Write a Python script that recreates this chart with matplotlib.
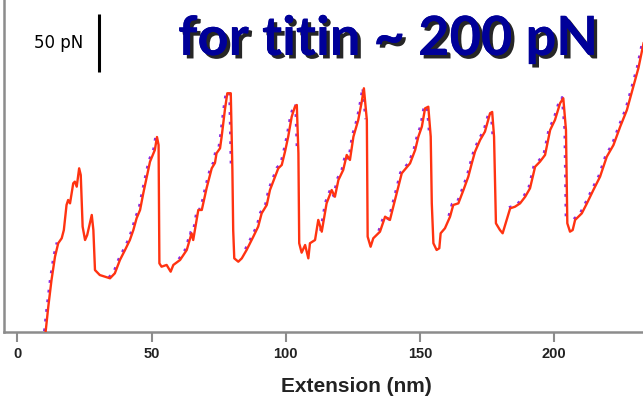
import matplotlib.pyplot as plt
import matplotlib.patheffects as pe
from matplotlib.transforms import offset_copy

# Force-extension trace of a titin pull (extension in nm, force in pN)
extension = [
    10.5, 11.5, 12.7, 14.0, 15.2, 16.5, 17.3, 18.3, 18.9, 19.6, 20.8, 21.4, 22.1, 23.0, 23.6,
    24.3, 25.2, 26.0, 27.7, 28.3, 28.9, 30.7, 34.5, 36.3, 38.2, 40.1, 41.9, 43.2, 44.4, 45.7,
    46.9, 48.2, 49.4, 51.2, 52.0, 52.6, 52.9, 53.7, 55.6, 57.1, 58.1, 60.6, 63.1, 64.9, 65.5,
    67.4, 68.7, 70.5, 72.4, 73.6, 74.2, 75.5, 76.1, 77.3, 78.2, 79.5, 80.1, 80.4, 80.8, 82.3,
    83.6, 85.4, 87.9, 89.7, 91.0, 92.9, 94.1, 95.3, 97.2, 98.5, 99.7, 100.9, 102.2, 103.4, 104.1,
    104.7, 105.0, 105.9, 107.2, 108.4, 109.0, 110.9, 112.1, 113.4, 115.2, 117.1, 118.3, 119.6, 121.4, 122.7,
    123.9, 125.2, 127.0, 128.3, 129.1, 130.2, 130.5, 131.6, 132.6, 135.1, 137.0, 138.8, 140.7, 143.2, 146.3,
    148.2, 149.4, 150.7, 151.9, 153.1, 154.0, 154.4, 155.0, 156.2, 157.2, 157.7, 159.3, 161.2, 162.4, 164.3,
    166.2, 168.0, 169.3, 170.5, 172.4, 174.2, 176.1, 176.9, 177.6, 178.3, 179.8, 180.8, 182.3, 183.6, 185.4,
    187.3, 189.2, 191.0, 192.9, 194.7, 196.6, 198.5, 200.3, 202.2, 203.4, 204.4, 204.9, 205.9, 206.9, 207.8,
    210.3, 212.2, 214.6, 217.1, 219.6, 222.1, 224.6, 227.1, 229.5, 231.4, 233.3,
]
force = [
    0.0, 21.8, 44.8, 64.9, 76.5, 80.8, 87.9, 109.5, 113.8, 110.9, 128.2, 129.6, 125.3, 141.1, 135.3,
    90.8, 79.3, 83.6, 100.9, 87.9, 53.4, 49.1, 46.3, 50.6, 62.1, 70.7, 79.3, 87.9, 98.0, 105.2,
    119.6, 133.9, 146.8, 156.9, 168.1, 161.2, 59.2, 56.3, 57.8, 52.0, 57.8, 62.1, 70.7, 85.1, 79.3,
    105.2, 105.2, 124.1, 141.1, 145.7, 154.1, 158.4, 168.4, 191.4, 205.8, 205.8, 139.7, 87.9, 63.5, 60.6,
    63.5, 70.7, 82.2, 90.8, 102.3, 109.5, 122.4, 129.6, 141.1, 144.0, 155.4, 168.4, 185.6, 194.2, 195.7,
    154.1, 76.5, 68.4, 75.0, 63.5, 76.5, 79.3, 96.6, 86.5, 110.9, 122.4, 116.6, 131.0, 139.7, 152.6,
    148.3, 168.4, 182.8, 198.5, 210.1, 182.8, 82.2, 73.5, 80.8, 86.5, 99.4, 96.6, 113.8, 136.8, 145.4,
    156.9, 168.4, 177.0, 192.8, 194.2, 168.4, 110.9, 76.5, 70.7, 72.2, 85.1, 89.4, 99.4, 109.5, 110.9,
    122.4, 133.9, 145.4, 155.4, 165.5, 172.7, 188.5, 189.7, 168.4, 93.7, 87.9, 85.1, 96.6, 106.6, 108.0,
    110.9, 116.6, 123.9, 142.5, 146.8, 152.6, 174.1, 182.8, 197.2, 201.5, 174.1, 93.7, 86.5, 87.9, 96.6,
    102.3, 110.9, 122.4, 133.9, 151.1, 161.2, 177.0, 191.4, 211.5, 227.6, 248.9,
]

# index ranges of the rising stretches that carry a worm-like-chain fit
fit_ranges = [(0, 4), (22, 35), (41, 56), (61, 75), (83, 95), (99, 110), (117, 128), (133, 146), (149, 161)]

tick_values = [0, 50, 100, 150, 200]
bar_x = 30.4
bar_force = (224.1, 274.1)
bar_label = "50 pN"
title = "for titin ~ 200 pN"
x_label = "Extension (nm)"

fig = plt.figure(figsize=(6.43, 3.98), dpi=100)
ax = fig.add_axes([4 / 643, 66 / 398, 639 / 643, 332 / 398])

grey = "#8c8c8c"
for side in ["top", "right"]:
    ax.spines[side].set_visible(False)
for side in ["left", "bottom"]:
    ax.spines[side].set_color(grey)
    ax.spines[side].set_linewidth(1.8)

# dotted fits, nudged one pixel left so they peek out from under the trace
shift = offset_copy(ax.transData, fig=fig, x=-1.2, y=0.8, units="dots")
for i0, i1 in fit_ranges:
    ax.plot(extension[i0:i1 + 1], force[i0:i1 + 1], color="#8a2be2", lw=2.0,
            ls=(0, (1, 2.5)), transform=shift, zorder=2)

ax.plot(extension, force, color="#ff3311", lw=1.7, zorder=3)

ax.set_xlim(-5.0, 233.1)
ax.set_ylim(0, 286.2)
ax.set_yticks([])
ax.set_xticks(tick_values)
ax.set_xticklabels([str(v) for v in tick_values], fontsize=10.5, fontweight="bold",
                   family="Liberation Sans", color="#222222")
ax.tick_params(axis="x", length=7.5, width=1.5, color=grey, pad=3)

ax.set_xlabel(x_label, fontsize=15, fontweight="bold", family="Liberation Sans", color="#222222")
ax.xaxis.set_label_coords(0.551, -0.165)
ax.xaxis.label.set_va("center")

# scale bar
ax.plot([bar_x, bar_x], bar_force, color="black", lw=2.2, solid_capstyle="butt")
ax.text(bar_x - 6.0, sum(bar_force) / 2, bar_label, ha="right", va="center",
        fontsize=12, family="DejaVu Sans", color="black")

fig.text(0.603, (398 - 55) / 398, title, ha="center", va="baseline",
         fontsize=39, fontweight="bold", family=["Lato", "DejaVu Sans"], color="#000099",
         path_effects=[pe.withSimplePatchShadow(offset=(2.5, -2.5), shadow_rgbFace="black", alpha=0.85),
                       pe.Normal()])

fig.savefig("out.png", dpi=100)
